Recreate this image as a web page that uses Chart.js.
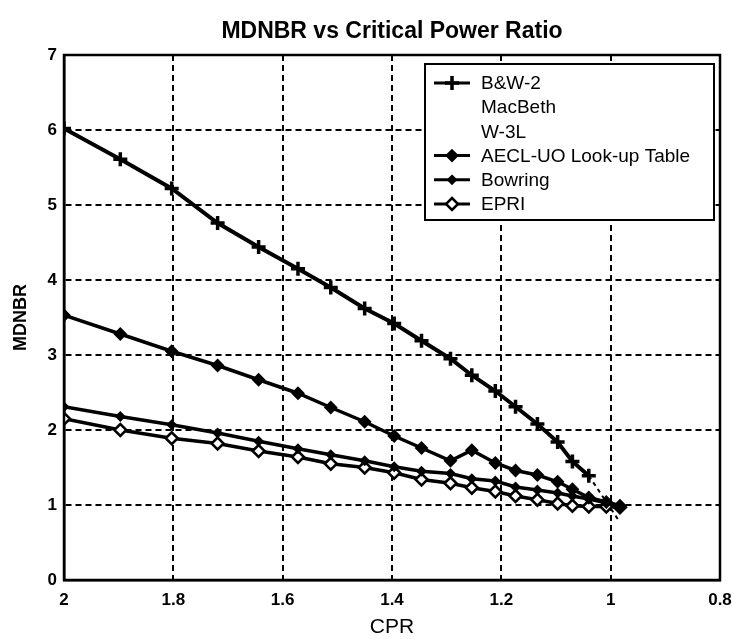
<!DOCTYPE html>
<html><head><meta charset="utf-8">
<script src="https://cdn.jsdelivr.net/npm/chart.js@4.4.1/dist/chart.umd.min.js"></script>
<style>html,body{margin:0;padding:0;background:#fff;}</style>
</head><body>
<canvas id="c" width="732" height="639"></canvas>
<script>
const chartTitle = 'MDNBR vs Critical Power Ratio';
const xAxisTitle = 'CPR';
const yAxisTitle = 'MDNBR';
const xTickValues = [2, 1.8, 1.6, 1.4, 1.2, 1, 0.8];
const xTickLabels = ['2', '1.8', '1.6', '1.4', '1.2', '1', '0.8'];
const yTickValues = [0, 1, 2, 3, 4, 5, 6, 7];
const yTickLabels = ['0', '1', '2', '3', '4', '5', '6', '7'];

const cpr     = [2.0, 1.897, 1.803, 1.719, 1.644, 1.572, 1.512, 1.45, 1.396, 1.346, 1.293, 1.254, 1.211, 1.174, 1.134, 1.097, 1.07, 1.04, 1.008, 0.983];
const bw2     = [6.02, 5.61, 5.22, 4.76, 4.44, 4.15, 3.90, 3.62, 3.42, 3.19, 2.95, 2.73, 2.52, 2.31, 2.08, 1.84, 1.58, 1.39, null, null];
const aecl    = [3.53, 3.28, 3.05, 2.86, 2.67, 2.49, 2.30, 2.11, 1.92, 1.76, 1.59, 1.73, 1.56, 1.46, 1.40, 1.31, 1.21, 1.10, 1.04, 0.99];
const bowring = [2.31, 2.18, 2.07, 1.96, 1.85, 1.75, 1.67, 1.59, 1.51, 1.45, 1.42, 1.35, 1.32, 1.24, 1.20, 1.16, 1.12, 1.08, 1.03, 0.99];
const epri    = [2.15, 2.00, 1.89, 1.82, 1.72, 1.64, 1.55, 1.50, 1.43, 1.34, 1.29, 1.23, 1.18, 1.12, 1.07, 1.02, 0.99, 0.98, 0.98, 0.97];
const macbethCpr = [1.04, 0.983];
const macbeth    = [1.39, 0.77];
const w3lCpr = [];
const w3l    = [];
const seriesLabels = ['B&W-2', 'MacBeth', 'W-3L', 'AECL-UO Look-up Table', 'Bowring', 'EPRI'];

const FONT = "'Liberation Sans', Arial, sans-serif";

function pts(xs, ys) {
  const out = [];
  for (let i = 0; i < xs.length; i++) if (ys[i] !== null && ys[i] !== undefined) out.push({x: xs[i], y: ys[i]});
  return out;
}

const datasets = [
  {label: seriesLabels[0], data: pts(cpr, bw2), borderColor: '#000', backgroundColor: '#000', borderWidth: 4,
   pointStyle: 'cross', pointRadius: 7, pointBorderWidth: 3.5, legendSample: true},
  {label: seriesLabels[1], data: pts(macbethCpr, macbeth), borderColor: '#000', borderWidth: 2, borderDash: [4, 4],
   pointRadius: 0, legendSample: false},
  {label: seriesLabels[2], data: pts(w3lCpr, w3l), borderColor: '#000', borderWidth: 2, pointRadius: 0, legendSample: false},
  {label: seriesLabels[3], data: pts(cpr, aecl), borderColor: '#000', backgroundColor: '#000', borderWidth: 3.5,
   pointStyle: 'rectRot', pointRadius: 5.5, pointBorderWidth: 2, legendSample: true},
  {label: seriesLabels[4], data: pts(cpr, bowring), borderColor: '#000', backgroundColor: '#000', borderWidth: 3.5,
   pointStyle: 'rectRot', pointRadius: 4, pointBorderWidth: 2, legendSample: true},
  {label: seriesLabels[5], data: pts(cpr, epri), borderColor: '#000', backgroundColor: '#fff', borderWidth: 3.5,
   pointStyle: 'rectRot', pointRadius: 6, pointBorderWidth: 2.5, legendSample: true}
];

function drawMarker(ctx, style, x, y, r, fill, bw) {
  ctx.save();
  ctx.setLineDash([]);
  ctx.lineWidth = bw;
  ctx.strokeStyle = '#000';
  ctx.fillStyle = fill || '#000';
  ctx.beginPath();
  if (style === 'cross') {
    ctx.moveTo(x - r, y); ctx.lineTo(x + r, y);
    ctx.moveTo(x, y - r); ctx.lineTo(x, y + r);
    ctx.stroke();
  } else if (style === 'rectRot') {
    ctx.moveTo(x, y - r); ctx.lineTo(x + r, y); ctx.lineTo(x, y + r); ctx.lineTo(x - r, y); ctx.closePath();
    ctx.fill(); ctx.stroke();
  }
  ctx.restore();
}

const frameLegend = {
  id: 'frameLegend',
  afterDraw(chart) {
    const ctx = chart.ctx, ca = chart.chartArea;
    ctx.save();
    ctx.setLineDash([]);
    // title centred over the plot area
    ctx.fillStyle = '#000';
    ctx.font = 'bold 23px ' + FONT;
    ctx.textAlign = 'center';
    ctx.textBaseline = 'middle';
    ctx.fillText(chartTitle, (ca.left + ca.right) / 2, 32);
    // axes box
    ctx.strokeStyle = '#000';
    ctx.lineWidth = 2.5;
    ctx.strokeRect(ca.left, ca.top, ca.right - ca.left, ca.bottom - ca.top);
    // legend box
    const bw = 289, bh = 156;
    const bx = ca.right - 6 - bw, by = ca.top + 9;
    ctx.fillStyle = '#fff';
    ctx.fillRect(bx, by, bw, bh);
    ctx.lineWidth = 2;
    ctx.strokeRect(bx, by, bw, bh);
    ctx.font = '19px ' + FONT;
    ctx.textBaseline = 'middle';
    ctx.textAlign = 'left';
    const rowH = 24.2;
    chart.data.datasets.forEach((ds, i) => {
      const y = by + 19 + i * rowH;
      if (ds.legendSample) {
        ctx.beginPath();
        ctx.lineWidth = 3;
        ctx.strokeStyle = '#000';
        ctx.moveTo(bx + 9, y); ctx.lineTo(bx + 45, y); ctx.stroke();
        drawMarker(ctx, ds.pointStyle, bx + 27, y, ds.pointRadius, ds.backgroundColor, ds.pointBorderWidth);
      }
      ctx.fillStyle = '#000';
      ctx.fillText(ds.label, bx + 56, y + 1);
    });
    ctx.restore();
  }
};

function edgeColor(minV, maxV) {
  return (c) => (c.tick && (Math.abs(c.tick.value - minV) < 1e-9 || Math.abs(c.tick.value - maxV) < 1e-9)) ? 'rgba(0,0,0,0)' : '#000';
}

new Chart(document.getElementById('c'), {
  type: 'line',
  data: {datasets},
  options: {
    responsive: false,
    devicePixelRatio: 1,
    animation: false,
    layout: {padding: {left: 0, right: 12, top: 55, bottom: 0}},
    elements: {line: {tension: 0}},
    plugins: {
      legend: {display: false},
      tooltip: {enabled: false},
      title: {display: false}
    },
    scales: {
      x: {
        type: 'linear', reverse: true, min: 0.8, max: 2,
        afterBuildTicks: (s) => { s.ticks = xTickValues.map(v => ({value: v})); },
        afterFit: (s) => { s.height = 59; s.paddingLeft = 0; s.paddingRight = 0; },
        ticks: {color: '#000', padding: 10, maxRotation: 0, autoSkip: false,
          font: {family: FONT, size: 17, weight: 'bold'},
          callback: (v) => xTickLabels[xTickValues.findIndex(t => Math.abs(t - v) < 1e-9)]},
        grid: {color: edgeColor(0.8, 2), lineWidth: 2, drawTicks: false},
        border: {display: true, color: '#000', width: 2.5, dash: [6, 4]},
        title: {display: true, text: xAxisTitle, color: '#000',
          font: {family: FONT, size: 21, lineHeight: 1.0}, padding: {top: 1, bottom: 1}}
      },
      y: {
        type: 'linear', min: 0, max: 7,
        afterBuildTicks: (s) => { s.ticks = yTickValues.map(v => ({value: v})); },
        afterFit: (s) => { s.width = 64; s.paddingTop = 0; s.paddingBottom = 0; },
        ticks: {color: '#000', padding: 7, font: {family: FONT, size: 17, weight: 'bold'},
          callback: (v) => yTickLabels[yTickValues.indexOf(v)]},
        grid: {color: edgeColor(0, 7), lineWidth: 2, drawTicks: false},
        border: {display: true, color: '#000', width: 2.5, dash: [6, 4]},
        title: {display: true, text: yAxisTitle, color: '#000',
          font: {family: FONT, size: 18, weight: 'bold', lineHeight: 1.2}, padding: {top: 10, bottom: 10}}
      }
    }
  },
  plugins: [frameLegend]
});
</script>
</body></html>
